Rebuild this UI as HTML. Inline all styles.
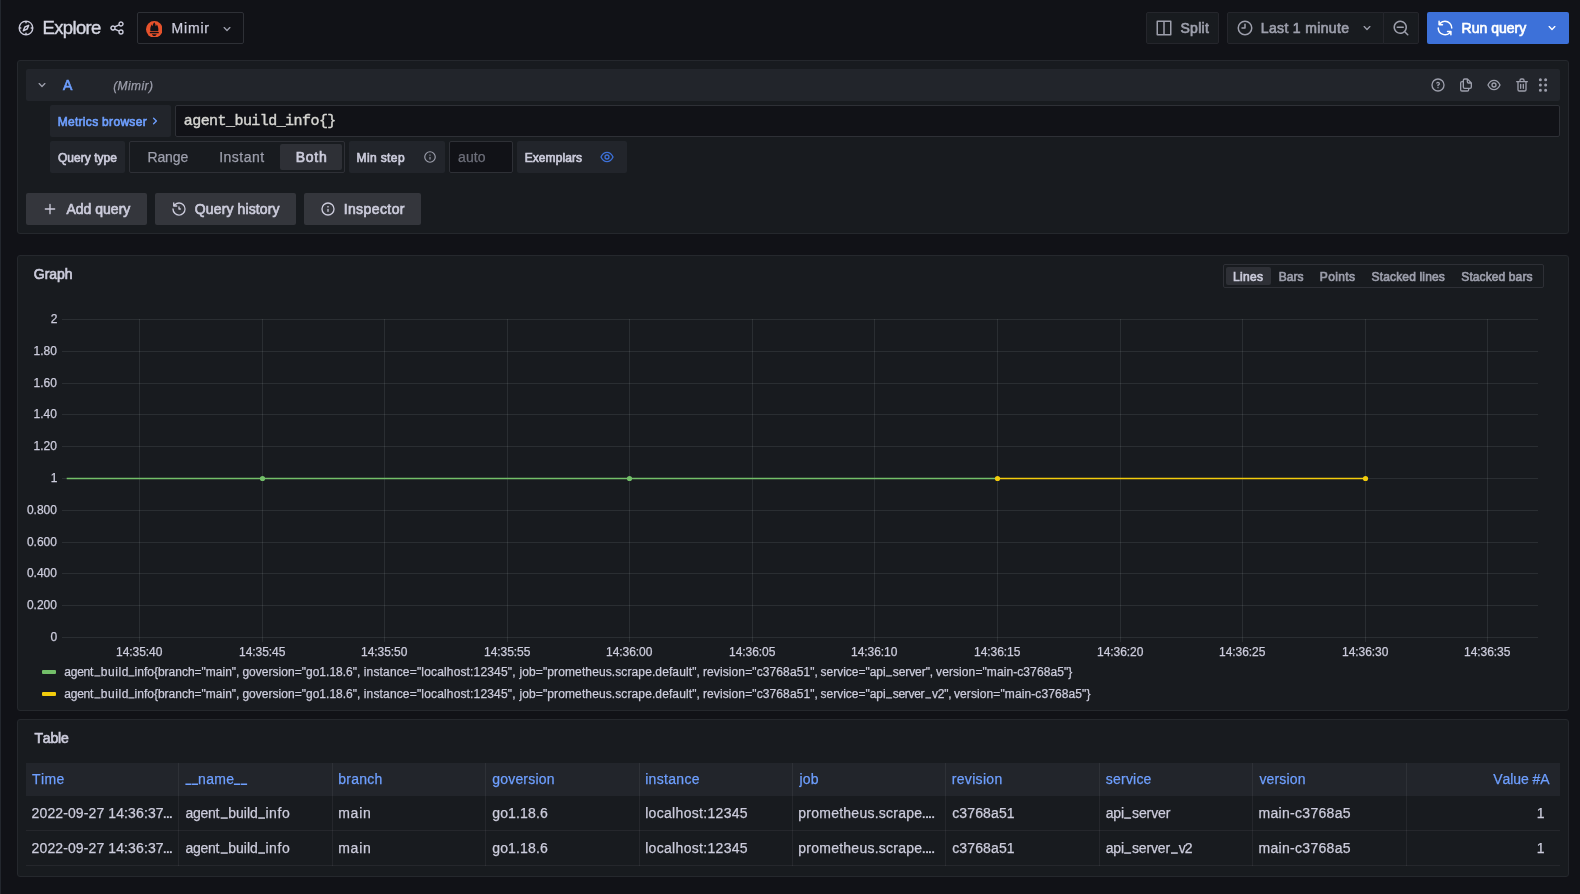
<!DOCTYPE html>
<html>
<head>
<meta charset="utf-8">
<title>Explore - Grafana</title>
<style>
*{box-sizing:border-box;margin:0;padding:0}
html,body{width:1580px;height:894px;overflow:hidden;background:#111217}
body{font-family:"Liberation Sans",sans-serif;font-size:14px;color:#ccccdc;position:relative}
.abs{position:absolute}
.t{position:absolute;white-space:nowrap;line-height:1}
.panel{position:absolute;background:#181b1f;border:1px solid #25282d;border-radius:3px}
.lbl{position:absolute;background:#22252b;border-radius:2px;height:32px}
.btn{position:absolute;height:32px;border-radius:2px}
.sec{background:#34363c}
.tb{background:#181b1f;border:1px solid #25262c}
svg{position:absolute;display:block}
.w5{font-weight:bold}
.c2{color:#9d9fac}
.lnk{color:#6e9fff}
.grid line{stroke:#2f3237;stroke-width:1}
.vline{position:absolute;width:1px;background:rgba(204,204,220,0.075)}
.hline{position:absolute;height:1px;background:rgba(204,204,220,0.075)}

.t{font-kerning:none}
.yl,.xl,.lg{color:#ccccdc}
.th{color:#6e9fff}
.td{color:#ccccdc}
</style>
</head>
<body>
<div id="root" style="position:absolute;left:0;top:0;width:1580px;height:894px;will-change:transform">
<!-- left strip -->
<div class="abs" style="left:0;top:0;width:1px;height:894px;background:#23272e"></div>

<!-- TOOLBAR -->
<div id="toolbar">
<svg id="i-compass" style="left:16.95px;top:19.30px" width="18" height="18" viewBox="0 0 24 24" fill="#ccccdc"><path d="M12,2A10,10,0,1,0,22,12,10,10,0,0,0,12,2Zm1,17.930V19a1,1,0,0,0-2,0v.930A8,8,0,0,1,4.070,13H5a1,1,0,0,0,0-2H4.070A8,8,0,0,1,11,4.070V5a1,1,0,0,0,2,0V4.070A8,8,0,0,1,19.930,11H19a1,1,0,0,0,0,2h.930A8,8,0,0,1,13,19.930ZM15.140,7.550l-5,2.120a1,1,0,0,0-.520.520l-2.120,5a1,1,0,0,0,.210,1.100,1,1,0,0,0,.7.3.930.930,0,0,0,.4-.090l5-2.120a1,1,0,0,0,.520-.520l2.120-5a1,1,0,0,0-1.310-1.310Zm-2.490,5.100-2.280,1,1-2.280,2.280-1Z"/></svg>
<div class="t" id="t-explore" style="left:42.48px;top:17px;font-size:18.5px;line-height:22px;letter-spacing:-0.631px;-webkit-text-stroke:0.4px;color:#d5d6e2">Explore</div>
<svg id="i-share" style="left:109px;top:20px" width="16" height="16" viewBox="0 0 24 24" fill="#ccccdc"><path d="M18,14a4,4,0,0,0-3.08,1.48l-5.1-2.35a3.64,3.64,0,0,0,0-2.26l5.1-2.35A4,4,0,1,0,14,6a4.17,4.17,0,0,0,.07.71L8.79,9.14a4,4,0,1,0,0,5.72l5.28,2.43A4.17,4.17,0,0,0,14,18a4,4,0,1,0,4-4ZM18,4a2,2,0,1,1-2,2A2,2,0,0,1,18,4ZM6,14a2,2,0,1,1,2-2A2,2,0,0,1,6,14Zm12,6a2,2,0,1,1,2-2A2,2,0,0,1,18,20Z"/></svg>
<div class="abs" id="ds" style="left:137px;top:12px;width:107px;height:32px;background:#111217;border:1px solid #2e3036;border-radius:2px"></div>
<svg id="i-prom" style="left:145.7px;top:20.8px" width="16.6" height="16.6" viewBox="0 0 16 16"><circle cx="8" cy="8" r="8" fill="#e6522c"/><path d="M4.25 9.800C3.800 7.500 4.400 5 5.800 3.100C5.700 4 6 4.600 6.500 5C6.600 3.500 7.200 2.200 8 1.150C8.800 2.200 9.300 3.500 9.400 5C9.900 4.600 10.300 4.200 10.500 3.400C11.700 5.200 12.200 7.500 11.800 9.800ZM3.700 10.600H12.300V11.800H3.700ZM5.700 12.700H10.300C10 13.800 9.100 14.400 8 14.400C6.900 14.400 6 13.800 5.700 12.700Z" fill="#111217"/></svg>
<div class="t" id="t-mimir" style="left:171.48px;top:20px;font-size:14px;line-height:16px;letter-spacing:0.831px;-webkit-text-stroke:0.25px">Mimir</div>
<svg id="i-dschev" style="left:219px;top:21px" width="16" height="16" viewBox="0 0 24 24" fill="#9d9fac"><path d="M17,9.17a1,1,0,0,0-1.410,0L12,12.710,8.460,9.170a1,1,0,0,0-1.410,0,1,1,0,0,0,0,1.420l4.240,4.240a1,1,0,0,0,1.420,0L17,10.590A1,1,0,0,0,17,9.170Z"/></svg>

<!-- right -->
<div class="btn tb" id="b-split" style="left:1146px;top:12px;width:73px"></div>
<svg id="i-split" style="left:1155.20px;top:19.20px" width="18" height="18" viewBox="0 0 24 24" fill="#9d9fac"><path d="M21,2H3A1,1,0,0,0,2,3V21a1,1,0,0,0,1,1H21a1,1,0,0,0,1-1V3A1,1,0,0,0,21,2ZM11,20H4V4h7Zm9,0H13V4h7Z"/></svg>
<div class="t c2" id="t-split" style="left:1180.39px;top:20px;font-size:14px;line-height:16px;letter-spacing:0.338px;-webkit-text-stroke:0.65px">Split</div>

<div class="btn tb" id="b-time" style="left:1227px;top:12px;width:157px;border-radius:2px 0 0 2px"></div>
<div class="btn tb" id="b-zoom" style="left:1383px;top:12px;width:36px;border-radius:0 2px 2px 0"></div>
<svg id="i-clock" style="left:1236.00px;top:19.30px" width="18" height="18" viewBox="0 0 24 24" fill="#9d9fac"><path d="M12,2A10,10,0,1,0,22,12,10.011,10.011,0,0,0,12,2Zm0,18a8,8,0,1,1,8-8A8.009,8.009,0,0,1,12,20ZM12,6a1,1,0,0,0-1,1v4H8a1,1,0,0,0,0,2h4a1,1,0,0,0,1-1V7A1,1,0,0,0,12,6Z"/></svg>
<div class="t c2" id="t-last" style="left:1260.78px;top:20px;font-size:14px;line-height:16px;letter-spacing:0.348px;-webkit-text-stroke:0.65px">Last 1 minute</div>
<svg id="i-tchev" style="left:1359px;top:20px" width="16" height="16" viewBox="0 0 24 24" fill="#9d9fac"><path d="M17,9.17a1,1,0,0,0-1.410,0L12,12.710,8.460,9.170a1,1,0,0,0-1.410,0,1,1,0,0,0,0,1.420l4.240,4.240a1,1,0,0,0,1.420,0L17,10.590A1,1,0,0,0,17,9.170Z"/></svg>
<svg id="i-zoom" style="left:1392.20px;top:19.30px" width="18" height="18" viewBox="0 0 24 24" fill="#9d9fac"><path d="M21.710,20.290,18,16.610A9,9,0,1,0,16.610,18l3.680,3.680a1,1,0,0,0,1.420,0A1,1,0,0,0,21.710,20.290ZM11,18a7,7,0,1,1,7-7A7,7,0,0,1,11,18Zm4-8H7a1,1,0,0,0,0,2h8a1,1,0,0,0,0-2Z"/></svg>

<div class="btn" id="b-run" style="left:1427px;top:12px;width:142px;background:#3d71d9"></div>
<svg id="i-sync" style="left:1435.90px;top:19.20px" width="18" height="18" viewBox="0 0 24 24" fill="#fff"><path d="M19.910,15.510H15.380a1,1,0,0,0,0,2h2.400A8,8,0,0,1,4,12a1,1,0,0,0-2,0,10,10,0,0,0,16.880,7.230V21a1,1,0,0,0,2,0V16.500A1,1,0,0,0,19.910,15.510ZM12,2A10,10,0,0,0,5.120,4.770V3a1,1,0,0,0-2,0V7.500a1,1,0,0,0,1,1h4.500a1,1,0,0,0,0-2H6.220A8,8,0,0,1,20,12a1,1,0,0,0,2,0A10,10,0,0,0,12,2Z"/></svg>
<div class="t" id="t-run" style="left:1461.58px;top:20px;font-size:14px;line-height:16px;letter-spacing:0.004px;-webkit-text-stroke:0.65px;color:#fff">Run query</div>
<svg id="i-rchev" style="left:1544px;top:20px" width="16" height="16" viewBox="0 0 24 24" fill="#fff"><path d="M17,9.17a1,1,0,0,0-1.410,0L12,12.710,8.460,9.170a1,1,0,0,0-1.410,0,1,1,0,0,0,0,1.420l4.240,4.240a1,1,0,0,0,1.420,0L17,10.590A1,1,0,0,0,17,9.170Z"/></svg>
</div>

<!-- QUERY PANEL -->
<div class="panel" id="p-query" style="left:17px;top:60px;width:1552px;height:174px"></div>
<div class="abs" id="qhead" style="left:26px;top:69px;width:1534px;height:32px;background:#22252b;border-radius:2px"></div>
<svg id="i-qchev" style="left:34px;top:77px" width="16" height="16" viewBox="0 0 24 24" fill="#9d9fac"><path d="M17,9.17a1,1,0,0,0-1.410,0L12,12.710,8.460,9.170a1,1,0,0,0-1.410,0,1,1,0,0,0,0,1.420l4.240,4.240a1,1,0,0,0,1.420,0L17,10.590A1,1,0,0,0,17,9.170Z"/></svg>
<div class="t lnk" id="t-A" style="left:63.10px;top:77px;font-size:14px;line-height:16px;letter-spacing:0.000px;-webkit-text-stroke:0.65px">A</div>
<div class="t c2" id="t-qmimir" style="left:113.16px;top:79px;font-size:12px;line-height:14px;letter-spacing:0.419px;-webkit-text-stroke:0.25px;font-style:italic">(Mimir)</div>

<svg id="i-help" style="left:1430px;top:77px" width="16" height="16" viewBox="0 0 24 24" fill="#9d9fac"><path d="M11.290,15.290a1.580,1.580,0,0,0-.120.150.760.760,0,0,0-.090.180.640.640,0,0,0-.060.180,1.360,1.360,0,0,0,0,.2.840.840,0,0,0,.080.380.900.900,0,0,0,.540.540.940.940,0,0,0,.760,0,.900.900,0,0,0,.540-.54A1,1,0,0,0,13,16a1,1,0,0,0-.290-.71A1,1,0,0,0,11.290,15.290ZM12,2A10,10,0,1,0,22,12,10,10,0,0,0,12,2Zm0,18a8,8,0,1,1,8-8A8,8,0,0,1,12,20ZM12,7A3,3,0,0,0,9.400,8.500a1,1,0,1,0,1.730,1A1,1,0,0,1,12,9a1,1,0,0,1,0,2,1,1,0,0,0-1,1v1a1,1,0,0,0,2,0v-.18A3,3,0,0,0,12,7Z"/></svg>
<svg id="i-copy" style="left:1458px;top:77px" width="16" height="16" viewBox="0 0 24 24" fill="#9d9fac"><path d="M21,8.940a1.310,1.310,0,0,0-.060-.270l0-.090a1.070,1.070,0,0,0-.190-.280h0l-6-6h0a1.070,1.070,0,0,0-.280-.190.320.320,0,0,0-.090,0A.880.880,0,0,0,14.050,2H10A3,3,0,0,0,7,5V6H6A3,3,0,0,0,3,9V19a3,3,0,0,0,3,3h8a3,3,0,0,0,3-3V18h1a3,3,0,0,0,3-3V9S21,9,21,8.940ZM15,5.410,17.590,8H16a1,1,0,0,1-1-1ZM15,19a1,1,0,0,1-1,1H6a1,1,0,0,1-1-1V9A1,1,0,0,1,6,8H7v7a3,3,0,0,0,3,3h5Zm4-4a1,1,0,0,1-1,1H10a1,1,0,0,1-1-1V5a1,1,0,0,1,1-1h3V7a3,3,0,0,0,3,3h3Z"/></svg>
<svg id="i-eye" style="left:1486px;top:77px" width="16" height="16" viewBox="0 0 24 24" fill="#9d9fac"><path d="M21.920,11.600C19.900,6.910,16.100,4,12,4S4.100,6.910,2.080,11.600a1,1,0,0,0,0,.8C4.100,17.090,7.900,20,12,20s7.900-2.910,9.920-7.600A1,1,0,0,0,21.920,11.600ZM12,18c-3.170,0-6.170-2.290-7.900-6C5.830,8.290,8.830,6,12,6s6.170,2.290,7.900,6C18.170,15.710,15.170,18,12,18ZM12,8a4,4,0,1,0,4,4A4,4,0,0,0,12,8Zm0,6a2,2,0,1,1,2-2A2,2,0,0,1,12,14Z"/></svg>
<svg id="i-trash" style="left:1514px;top:77px" width="16" height="16" viewBox="0 0 24 24" fill="#9d9fac"><path d="M10,18a1,1,0,0,0,1-1V11a1,1,0,0,0-2,0v6A1,1,0,0,0,10,18ZM20,6H16V5a3,3,0,0,0-3-3H11A3,3,0,0,0,8,5V6H4A1,1,0,0,0,4,8H5V19a3,3,0,0,0,3,3h8a3,3,0,0,0,3-3V8h1a1,1,0,0,0,0-2ZM10,5a1,1,0,0,1,1-1h2a1,1,0,0,1,1,1V6H10Zm7,14a1,1,0,0,1-1,1H8a1,1,0,0,1-1-1V8H17Zm-3-1a1,1,0,0,0,1-1V11a1,1,0,0,0-2,0v6A1,1,0,0,0,14,18Z"/></svg>
<svg id="i-drag" style="left:1534.00px;top:76.10px" width="18" height="18" viewBox="0 0 24 24" fill="#9d9fac"><path d="M8.500,10a2,2,0,1,0,2,2A2,2,0,0,0,8.500,10Zm0,7a2,2,0,1,0,2,2A2,2,0,0,0,8.500,17Zm7-10a2,2,0,1,0-2-2A2,2,0,0,0,15.500,7Zm-7-4a2,2,0,1,0,2,2A2,2,0,0,0,8.500,3Zm7,14a2,2,0,1,0,2,2A2,2,0,0,0,15.500,17Zm0-7a2,2,0,1,0,2,2A2,2,0,0,0,15.500,10Z"/></svg>

<!-- query row 1 -->
<div class="lbl" id="l-metrics" style="left:50px;top:105px;width:121px"></div>
<div class="t lnk" id="t-metrics" style="left:57.64px;top:115px;font-size:12px;line-height:14px;letter-spacing:0.311px;-webkit-text-stroke:0.65px">Metrics browser</div>
<svg id="i-mchev" style="left:147.05px;top:113.25px" width="16" height="16" viewBox="0 0 24 24" fill="#6e9fff"><path d="M14.830,11.290,10.590,7.050a1,1,0,0,0-1.420,0,1,1,0,0,0,0,1.410L12.710,12,9.170,15.540a1,1,0,0,0,0,1.410,1,1,0,0,0,.71.290,1,1,0,0,0,.71-.29l4.240-4.240A1,1,0,0,0,14.830,11.290Z"/></svg>
<div class="abs" id="qinput" style="left:175px;top:105px;width:1385px;height:32px;background:#111217;border:1px solid #2e3036;border-radius:2px"></div>
<div class="t" id="t-query" style="left:183.76px;top:113px;font-size:15px;line-height:17px;letter-spacing:-0.554px;-webkit-text-stroke:0.4px;font-family:'Liberation Mono',monospace;color:#d6d6d2">agent_build_info{}</div>

<!-- query row 2 -->
<div class="lbl" id="l-qtype" style="left:50px;top:141px;width:75px"></div>
<div class="t" id="t-qtype" style="left:57.96px;top:151px;font-size:12px;line-height:14px;letter-spacing:0.029px;-webkit-text-stroke:0.65px">Query type</div>
<div class="abs" id="radio" style="left:129px;top:141px;width:216px;height:32px;border:1px solid #2e3036;border-radius:2px"></div>
<div class="abs" id="pill" style="left:280px;top:144px;width:62px;height:26px;background:#2e3036;border-radius:2px"></div>
<div class="t c2" id="t-range" style="left:147.38px;top:149px;font-size:14px;line-height:16px;letter-spacing:-0.084px;-webkit-text-stroke:0.25px">Range</div>
<div class="t c2" id="t-instant" style="left:219.13px;top:149px;font-size:14px;line-height:16px;letter-spacing:0.486px;-webkit-text-stroke:0.25px">Instant</div>
<div class="t" id="t-both" style="left:295.68px;top:149px;font-size:14px;line-height:16px;letter-spacing:0.736px;-webkit-text-stroke:0.65px">Both</div>
<div class="lbl" id="l-minstep" style="left:349px;top:141px;width:96px"></div>
<div class="t" id="t-minstep" style="left:356.54px;top:151px;font-size:12px;line-height:14px;letter-spacing:0.384px;-webkit-text-stroke:0.65px">Min step</div>
<svg id="i-msinfo" style="left:423.10px;top:150.30px" width="14" height="14" viewBox="0 0 24 24" fill="#9d9fac"><path d="M12,2A10,10,0,1,0,22,12,10.011,10.011,0,0,0,12,2Zm0,18a8,8,0,1,1,8-8A8.009,8.009,0,0,1,12,20Zm0-8.500a1,1,0,0,0-1,1v3a1,1,0,0,0,2,0v-3A1,1,0,0,0,12,11.500Zm0-4a1.250,1.250,0,1,0,1.250,1.250A1.250,1.250,0,0,0,12,7.500Z"/></svg>
<div class="abs" id="autoinput" style="left:449px;top:141px;width:64px;height:32px;background:#111217;border:1px solid #2e3036;border-radius:2px"></div>
<div class="t" id="t-auto" style="left:458.03px;top:149px;font-size:14px;line-height:16px;letter-spacing:0.128px;-webkit-text-stroke:0.25px;color:#6c6e79">auto</div>
<div class="lbl" id="l-exemplars" style="left:517px;top:141px;width:110px"></div>
<div class="t" id="t-exemplars" style="left:524.64px;top:151px;font-size:12px;line-height:14px;letter-spacing:0.098px;-webkit-text-stroke:0.65px">Exemplars</div>
<svg id="i-exeye" style="left:599.00px;top:149.30px" width="16" height="16" viewBox="0 0 24 24" fill="#3d71d9"><path d="M21.920,11.600C19.900,6.910,16.100,4,12,4S4.100,6.910,2.080,11.600a1,1,0,0,0,0,.8C4.100,17.090,7.900,20,12,20s7.900-2.910,9.920-7.600A1,1,0,0,0,21.920,11.600ZM12,18c-3.170,0-6.170-2.290-7.900-6C5.830,8.290,8.830,6,12,6s6.170,2.290,7.900,6C18.170,15.710,15.170,18,12,18ZM12,8a4,4,0,1,0,4,4A4,4,0,0,0,12,8Zm0,6a2,2,0,1,1,2-2A2,2,0,0,1,12,14Z"/></svg>

<!-- buttons -->
<div class="btn sec" id="b-add" style="left:26px;top:193px;width:121px"></div>
<svg id="i-plus" style="left:42px;top:201px" width="16" height="16" viewBox="0 0 24 24" fill="#ccccdc"><path d="M19,11H13V5a1,1,0,0,0-2,0v6H5a1,1,0,0,0,0,2h6v6a1,1,0,0,0,2,0V13h6a1,1,0,0,0,0-2Z"/></svg>
<div class="t" id="t-add" style="left:66.40px;top:201px;font-size:14px;line-height:16px;letter-spacing:0.011px;-webkit-text-stroke:0.65px">Add query</div>
<div class="btn sec" id="b-hist" style="left:155px;top:193px;width:141px"></div>
<svg id="i-hist" style="left:171px;top:201px" width="16" height="16" viewBox="0 0 24 24" fill="#ccccdc"><path d="M12,2A10,10,0,0,0,5.120,4.770V3a1,1,0,0,0-2,0V7.500a1,1,0,0,0,1,1H8.620a1,1,0,0,0,0-2H6.220A8,8,0,1,1,4,12a1,1,0,0,0-2,0A10,10,0,1,0,12,2Zm0,6a1,1,0,0,0-1,1v3a1,1,0,0,0,1,1h2a1,1,0,0,0,0-2H13V9A1,1,0,0,0,12,8Z"/></svg>
<div class="t" id="t-hist" style="left:194.86px;top:201px;font-size:14px;line-height:16px;letter-spacing:0.108px;-webkit-text-stroke:0.65px">Query history</div>
<div class="btn sec" id="b-insp" style="left:304px;top:193px;width:117px"></div>
<svg id="i-insp" style="left:320px;top:201px" width="16" height="16" viewBox="0 0 24 24" fill="#ccccdc"><path d="M12,2A10,10,0,1,0,22,12,10.011,10.011,0,0,0,12,2Zm0,18a8,8,0,1,1,8-8A8.009,8.009,0,0,1,12,20Zm0-8.500a1,1,0,0,0-1,1v3a1,1,0,0,0,2,0v-3A1,1,0,0,0,12,11.500Zm0-4a1.250,1.250,0,1,0,1.250,1.250A1.250,1.250,0,0,0,12,7.500Z"/></svg>
<div class="t" id="t-insp" style="left:343.63px;top:201px;font-size:14px;line-height:16px;letter-spacing:0.411px;-webkit-text-stroke:0.65px">Inspector</div>

<!-- GRAPH PANEL -->
<div class="panel" id="p-graph" style="left:17px;top:255px;width:1552px;height:456px"></div>
<div class="t" id="t-graph" style="left:33.82px;top:266px;font-size:14px;line-height:16px;letter-spacing:-0.062px;-webkit-text-stroke:0.65px">Graph</div>
<svg id="plot" style="left:0;top:300px" width="1580" height="360" viewBox="0 300 1580 360">
<g stroke="rgba(240,250,255,0.085)" stroke-width="1" shape-rendering="crispEdges">
<line x1="62" y1="319.5" x2="1537.5" y2="319.5"/>
<line x1="62" y1="351.5" x2="1537.5" y2="351.5"/>
<line x1="62" y1="383.5" x2="1537.5" y2="383.5"/>
<line x1="62" y1="414.5" x2="1537.5" y2="414.5"/>
<line x1="62" y1="446.5" x2="1537.5" y2="446.5"/>
<line x1="62" y1="478.5" x2="1537.5" y2="478.5"/>
<line x1="62" y1="510.5" x2="1537.5" y2="510.5"/>
<line x1="62" y1="542.5" x2="1537.5" y2="542.5"/>
<line x1="62" y1="573.5" x2="1537.5" y2="573.5"/>
<line x1="62" y1="605.5" x2="1537.5" y2="605.5"/>
<line x1="62" y1="637.5" x2="1537.5" y2="637.5"/>
<line x1="139.5" y1="319" x2="139.5" y2="642"/>
<line x1="262.5" y1="319" x2="262.5" y2="642"/>
<line x1="384.5" y1="319" x2="384.5" y2="642"/>
<line x1="507.5" y1="319" x2="507.5" y2="642"/>
<line x1="629.5" y1="319" x2="629.5" y2="642"/>
<line x1="752.5" y1="319" x2="752.5" y2="642"/>
<line x1="874.5" y1="319" x2="874.5" y2="642"/>
<line x1="997.5" y1="319" x2="997.5" y2="642"/>
<line x1="1120.5" y1="319" x2="1120.5" y2="642"/>
<line x1="1242.5" y1="319" x2="1242.5" y2="642"/>
<line x1="1365.5" y1="319" x2="1365.5" y2="642"/>
<line x1="1487.5" y1="319" x2="1487.5" y2="642"/>
</g>
<line x1="66.7" y1="478.5" x2="997.5" y2="478.5" stroke="#73bf69" stroke-width="1.3"/>
<line x1="997.5" y1="478.5" x2="1365.5" y2="478.5" stroke="#f2cc0c" stroke-width="1.3"/>
<circle cx="262.5" cy="478.5" r="2.6" fill="#73bf69"/>
<circle cx="629.5" cy="478.5" r="2.6" fill="#73bf69"/>
<circle cx="997.5" cy="478.5" r="2.6" fill="#f2cc0c"/>
<circle cx="1365.5" cy="478.5" r="2.6" fill="#f2cc0c"/>
</svg>
<div class="t yl" style="left:50.65px;top:312px;font-size:12px;line-height:14px;letter-spacing:0.000px;-webkit-text-stroke:0.25px">2</div>
<div class="t yl" style="left:33.61px;top:344px;font-size:12px;line-height:14px;letter-spacing:-0.008px;-webkit-text-stroke:0.25px">1.80</div>
<div class="t yl" style="left:33.61px;top:376px;font-size:12px;line-height:14px;letter-spacing:-0.008px;-webkit-text-stroke:0.25px">1.60</div>
<div class="t yl" style="left:33.61px;top:407px;font-size:12px;line-height:14px;letter-spacing:-0.008px;-webkit-text-stroke:0.25px">1.40</div>
<div class="t yl" style="left:33.61px;top:439px;font-size:12px;line-height:14px;letter-spacing:-0.008px;-webkit-text-stroke:0.25px">1.20</div>
<div class="t yl" style="left:50.64px;top:471px;font-size:12px;line-height:14px;letter-spacing:0.000px;-webkit-text-stroke:0.25px">1</div>
<div class="t yl" style="left:26.96px;top:503px;font-size:12px;line-height:14px;letter-spacing:-0.010px;-webkit-text-stroke:0.25px">0.800</div>
<div class="t yl" style="left:26.96px;top:535px;font-size:12px;line-height:14px;letter-spacing:-0.010px;-webkit-text-stroke:0.25px">0.600</div>
<div class="t yl" style="left:26.96px;top:566px;font-size:12px;line-height:14px;letter-spacing:-0.010px;-webkit-text-stroke:0.25px">0.400</div>
<div class="t yl" style="left:26.96px;top:598px;font-size:12px;line-height:14px;letter-spacing:-0.010px;-webkit-text-stroke:0.25px">0.200</div>
<div class="t yl" style="left:50.52px;top:630px;font-size:12px;line-height:14px;letter-spacing:0.000px;-webkit-text-stroke:0.25px">0</div>
<div class="t xl" style="left:116.11px;top:645px;font-size:12px;line-height:14px;letter-spacing:-0.068px;-webkit-text-stroke:0.25px">14:35:40</div>
<div class="t xl" style="left:239.11px;top:645px;font-size:12px;line-height:14px;letter-spacing:-0.063px;-webkit-text-stroke:0.25px">14:35:45</div>
<div class="t xl" style="left:361.11px;top:645px;font-size:12px;line-height:14px;letter-spacing:-0.068px;-webkit-text-stroke:0.25px">14:35:50</div>
<div class="t xl" style="left:484.11px;top:645px;font-size:12px;line-height:14px;letter-spacing:-0.063px;-webkit-text-stroke:0.25px">14:35:55</div>
<div class="t xl" style="left:606.11px;top:645px;font-size:12px;line-height:14px;letter-spacing:-0.068px;-webkit-text-stroke:0.25px">14:36:00</div>
<div class="t xl" style="left:729.11px;top:645px;font-size:12px;line-height:14px;letter-spacing:-0.063px;-webkit-text-stroke:0.25px">14:36:05</div>
<div class="t xl" style="left:851.11px;top:645px;font-size:12px;line-height:14px;letter-spacing:-0.068px;-webkit-text-stroke:0.25px">14:36:10</div>
<div class="t xl" style="left:974.11px;top:645px;font-size:12px;line-height:14px;letter-spacing:-0.063px;-webkit-text-stroke:0.25px">14:36:15</div>
<div class="t xl" style="left:1097.11px;top:645px;font-size:12px;line-height:14px;letter-spacing:-0.068px;-webkit-text-stroke:0.25px">14:36:20</div>
<div class="t xl" style="left:1219.11px;top:645px;font-size:12px;line-height:14px;letter-spacing:-0.063px;-webkit-text-stroke:0.25px">14:36:25</div>
<div class="t xl" style="left:1342.11px;top:645px;font-size:12px;line-height:14px;letter-spacing:-0.068px;-webkit-text-stroke:0.25px">14:36:30</div>
<div class="t xl" style="left:1464.11px;top:645px;font-size:12px;line-height:14px;letter-spacing:-0.063px;-webkit-text-stroke:0.25px">14:36:35</div>
<div class="abs" style="left:42px;top:669.5px;width:14px;height:4px;border-radius:1px;background:#73bf69"></div>
<div class="abs" style="left:42px;top:691.5px;width:14px;height:4px;border-radius:1px;background:#f2cc0c"></div>
<div class="t lg" id="t-lega0" style="left:64.22px;top:665px;font-size:12px;line-height:14px;letter-spacing:-0.220px;-webkit-text-stroke:0.25px">agent</div>
<div class="t lg" id="t-lega2" style="left:100.75px;top:665px;font-size:12px;line-height:14px;letter-spacing:0.561px;-webkit-text-stroke:0.25px">build</div>
<div class="t lg" id="t-lega4" style="left:134.62px;top:665px;font-size:12px;line-height:14px;letter-spacing:-0.005px;-webkit-text-stroke:0.25px">info{branch="main",</div>
<div class="t lg" id="t-lega5" style="left:242.42px;top:665px;font-size:12px;line-height:14px;letter-spacing:0.021px;-webkit-text-stroke:0.25px">goversion="go1.18.6",</div>
<div class="t lg" id="t-lega6" style="left:363.72px;top:665px;font-size:12px;line-height:14px;letter-spacing:0.162px;-webkit-text-stroke:0.25px">instance="localhost:12345",</div>
<div class="t lg" id="t-lega7" style="left:519.52px;top:665px;font-size:12px;line-height:14px;letter-spacing:0.109px;-webkit-text-stroke:0.25px">job="prometheus.scrape.default",</div>
<div class="t lg" id="t-lega8" style="left:702.93px;top:665px;font-size:12px;line-height:14px;letter-spacing:0.110px;-webkit-text-stroke:0.25px">revision="c3768a51",</div>
<div class="t lg" id="t-lega9" style="left:820.59px;top:665px;font-size:12px;line-height:14px;letter-spacing:-0.018px;-webkit-text-stroke:0.25px">service="api</div>
<div class="t lg" id="t-lega11" style="left:892.79px;top:665px;font-size:12px;line-height:14px;letter-spacing:-0.082px;-webkit-text-stroke:0.25px">server",</div>
<div class="t lg" id="t-lega12" style="left:936.08px;top:665px;font-size:12px;line-height:14px;letter-spacing:0.088px;-webkit-text-stroke:0.25px">version="main-c3768a5"}</div>
<div class="t lg" id="t-legb0" style="left:64.22px;top:687px;font-size:12px;line-height:14px;letter-spacing:-0.220px;-webkit-text-stroke:0.25px">agent</div>
<div class="t lg" id="t-legb2" style="left:100.75px;top:687px;font-size:12px;line-height:14px;letter-spacing:0.561px;-webkit-text-stroke:0.25px">build</div>
<div class="t lg" id="t-legb4" style="left:134.62px;top:687px;font-size:12px;line-height:14px;letter-spacing:-0.005px;-webkit-text-stroke:0.25px">info{branch="main",</div>
<div class="t lg" id="t-legb5" style="left:242.42px;top:687px;font-size:12px;line-height:14px;letter-spacing:0.021px;-webkit-text-stroke:0.25px">goversion="go1.18.6",</div>
<div class="t lg" id="t-legb6" style="left:363.72px;top:687px;font-size:12px;line-height:14px;letter-spacing:0.162px;-webkit-text-stroke:0.25px">instance="localhost:12345",</div>
<div class="t lg" id="t-legb7" style="left:519.52px;top:687px;font-size:12px;line-height:14px;letter-spacing:0.109px;-webkit-text-stroke:0.25px">job="prometheus.scrape.default",</div>
<div class="t lg" id="t-legb8" style="left:702.93px;top:687px;font-size:12px;line-height:14px;letter-spacing:0.110px;-webkit-text-stroke:0.25px">revision="c3768a51",</div>
<div class="t lg" id="t-legb9" style="left:820.59px;top:687px;font-size:12px;line-height:14px;letter-spacing:-0.018px;-webkit-text-stroke:0.25px">service="api</div>
<div class="t lg" id="t-legb11" style="left:892.79px;top:687px;font-size:12px;line-height:14px;letter-spacing:-0.331px;-webkit-text-stroke:0.25px">server</div>
<div class="t lg" id="t-legb13" style="left:932.08px;top:687px;font-size:12px;line-height:14px;letter-spacing:-0.266px;-webkit-text-stroke:0.25px">v2",</div>
<div class="t lg" id="t-legb14" style="left:953.98px;top:687px;font-size:12px;line-height:14px;letter-spacing:0.102px;-webkit-text-stroke:0.25px">version="main-c3768a5"}</div>
<div class="abs" id="gstyle" style="left:1223px;top:264px;width:321px;height:24px;border:1px solid #2e3036;border-radius:2px"></div>
<div class="abs" id="gpill" style="left:1226px;top:267px;width:45px;height:18px;background:#2e3036;border-radius:2px"></div>
<div class="t" id="t-gs0" style="left:1233.04px;top:270px;font-size:12px;line-height:14px;letter-spacing:0.295px;-webkit-text-stroke:0.65px">Lines</div>
<div class="t c2" id="t-gs1" style="left:1278.84px;top:270px;font-size:12px;line-height:14px;letter-spacing:-0.002px;-webkit-text-stroke:0.65px">Bars</div>
<div class="t c2" id="t-gs2" style="left:1319.84px;top:270px;font-size:12px;line-height:14px;letter-spacing:0.363px;-webkit-text-stroke:0.65px">Points</div>
<div class="t c2" id="t-gs3" style="left:1371.58px;top:270px;font-size:12px;line-height:14px;letter-spacing:0.155px;-webkit-text-stroke:0.65px">Stacked lines</div>
<div class="t c2" id="t-gs4" style="left:1461.28px;top:270px;font-size:12px;line-height:14px;letter-spacing:0.108px;-webkit-text-stroke:0.65px">Stacked bars</div>

<!-- TABLE PANEL -->
<div class="panel" id="p-table" style="left:17px;top:719px;width:1552px;height:158px"></div>
<div class="t" id="t-table" style="left:34.41px;top:730px;font-size:14px;line-height:16px;letter-spacing:-0.183px;-webkit-text-stroke:0.65px">Table</div>
<div class="abs" id="thead" style="left:26px;top:763px;width:1534px;height:33px;background:#22252b"></div>
<div class="hline" style="left:26px;top:830px;width:1534px"></div>
<div class="hline" style="left:26px;top:865px;width:1534px"></div>
<div class="vline" style="left:178px;top:763px;height:103px"></div>
<div class="vline" style="left:332px;top:763px;height:103px"></div>
<div class="vline" style="left:485px;top:763px;height:103px"></div>
<div class="vline" style="left:639px;top:763px;height:103px"></div>
<div class="vline" style="left:792px;top:763px;height:103px"></div>
<div class="vline" style="left:945px;top:763px;height:103px"></div>
<div class="vline" style="left:1099px;top:763px;height:103px"></div>
<div class="vline" style="left:1252px;top:763px;height:103px"></div>
<div class="vline" style="left:1406px;top:763px;height:103px"></div>
<div class="t th" id="th0" style="left:32.01px;top:771px;font-size:14px;line-height:16px;letter-spacing:0.392px;-webkit-text-stroke:0.25px">Time</div>
<div class="t th" id="th1" style="left:198.00px;top:771px;font-size:14px;line-height:16px;letter-spacing:0.360px;-webkit-text-stroke:0.25px">name</div>
<div class="t th" id="th2" style="left:338.22px;top:771px;font-size:14px;line-height:16px;letter-spacing:0.271px;-webkit-text-stroke:0.25px">branch</div>
<div class="t th" id="th3" style="left:492.24px;top:771px;font-size:14px;line-height:16px;letter-spacing:0.193px;-webkit-text-stroke:0.25px">goversion</div>
<div class="t th" id="th4" style="left:645.19px;top:771px;font-size:14px;line-height:16px;letter-spacing:0.323px;-webkit-text-stroke:0.25px">instance</div>
<div class="t th" id="th5" style="left:799.57px;top:771px;font-size:14px;line-height:16px;letter-spacing:0.157px;-webkit-text-stroke:0.25px">job</div>
<div class="t th" id="th6" style="left:951.80px;top:771px;font-size:14px;line-height:16px;letter-spacing:0.307px;-webkit-text-stroke:0.25px">revision</div>
<div class="t th" id="th7" style="left:1105.84px;top:771px;font-size:14px;line-height:16px;letter-spacing:0.203px;-webkit-text-stroke:0.25px">service</div>
<div class="t th" id="th8" style="left:1259.38px;top:771px;font-size:14px;line-height:16px;letter-spacing:0.163px;-webkit-text-stroke:0.25px">version</div>
<div class="t th" id="th9" style="left:1493.26px;top:771px;font-size:14px;line-height:16px;letter-spacing:-0.083px;-webkit-text-stroke:0.25px">Value #A</div>
<div class="t td" id="td0_0" style="left:31.62px;top:805px;font-size:14px;line-height:16px;letter-spacing:0.109px;-webkit-text-stroke:0.25px">2022-09-27 14:36:37</div>
<div class="t td" id="td0_1" style="left:185.43px;top:805px;font-size:14px;line-height:16px;letter-spacing:-0.247px;-webkit-text-stroke:0.25px">agent</div>
<div class="t td" id="td0_3" style="left:228.22px;top:805px;font-size:14px;line-height:16px;letter-spacing:0.019px;-webkit-text-stroke:0.25px">build</div>
<div class="t td" id="td0_5" style="left:265.39px;top:805px;font-size:14px;line-height:16px;letter-spacing:0.601px;-webkit-text-stroke:0.25px">info</div>
<div class="t td" id="td0_6" style="left:338.20px;top:805px;font-size:14px;line-height:16px;letter-spacing:0.748px;-webkit-text-stroke:0.25px">main</div>
<div class="t td" id="td0_7" style="left:492.24px;top:805px;font-size:14px;line-height:16px;letter-spacing:0.151px;-webkit-text-stroke:0.25px">go1.18.6</div>
<div class="t td" id="td0_8" style="left:645.18px;top:805px;font-size:14px;line-height:16px;letter-spacing:0.315px;-webkit-text-stroke:0.25px">localhost:12345</div>
<div class="t td" id="td0_9" style="left:798.32px;top:805px;font-size:14px;line-height:16px;letter-spacing:0.240px;-webkit-text-stroke:0.25px">prometheus.scrape</div>
<div class="t td" id="td0_10" style="left:952.13px;top:805px;font-size:14px;line-height:16px;letter-spacing:0.146px;-webkit-text-stroke:0.25px">c3768a51</div>
<div class="t td" id="td0_11" style="left:1105.63px;top:805px;font-size:14px;line-height:16px;letter-spacing:-0.147px;-webkit-text-stroke:0.25px">api</div>
<div class="t td" id="td0_13" style="left:1132.04px;top:805px;font-size:14px;line-height:16px;letter-spacing:-0.105px;-webkit-text-stroke:0.25px">server</div>
<div class="t td" id="td0_14" style="left:1258.50px;top:805px;font-size:14px;line-height:16px;letter-spacing:0.304px;-webkit-text-stroke:0.25px">main-c3768a5</div>
<div class="t td" id="td0_15" style="left:1536.76px;top:805px;font-size:14px;line-height:16px;letter-spacing:0.000px;-webkit-text-stroke:0.25px">1</div>
<div class="t td" id="td1_0" style="left:31.62px;top:840px;font-size:14px;line-height:16px;letter-spacing:0.109px;-webkit-text-stroke:0.25px">2022-09-27 14:36:37</div>
<div class="t td" id="td1_1" style="left:185.43px;top:840px;font-size:14px;line-height:16px;letter-spacing:-0.247px;-webkit-text-stroke:0.25px">agent</div>
<div class="t td" id="td1_3" style="left:228.22px;top:840px;font-size:14px;line-height:16px;letter-spacing:0.019px;-webkit-text-stroke:0.25px">build</div>
<div class="t td" id="td1_5" style="left:265.39px;top:840px;font-size:14px;line-height:16px;letter-spacing:0.601px;-webkit-text-stroke:0.25px">info</div>
<div class="t td" id="td1_6" style="left:338.20px;top:840px;font-size:14px;line-height:16px;letter-spacing:0.748px;-webkit-text-stroke:0.25px">main</div>
<div class="t td" id="td1_7" style="left:492.24px;top:840px;font-size:14px;line-height:16px;letter-spacing:0.151px;-webkit-text-stroke:0.25px">go1.18.6</div>
<div class="t td" id="td1_8" style="left:645.18px;top:840px;font-size:14px;line-height:16px;letter-spacing:0.315px;-webkit-text-stroke:0.25px">localhost:12345</div>
<div class="t td" id="td1_9" style="left:798.32px;top:840px;font-size:14px;line-height:16px;letter-spacing:0.240px;-webkit-text-stroke:0.25px">prometheus.scrape</div>
<div class="t td" id="td1_10" style="left:952.13px;top:840px;font-size:14px;line-height:16px;letter-spacing:0.146px;-webkit-text-stroke:0.25px">c3768a51</div>
<div class="t td" id="td1_11" style="left:1105.63px;top:840px;font-size:14px;line-height:16px;letter-spacing:-0.147px;-webkit-text-stroke:0.25px">api</div>
<div class="t td" id="td1_13" style="left:1132.04px;top:840px;font-size:14px;line-height:16px;letter-spacing:-0.165px;-webkit-text-stroke:0.25px">server</div>
<div class="t td" id="td1_15" style="left:1178.68px;top:840px;font-size:14px;line-height:16px;letter-spacing:-0.984px;-webkit-text-stroke:0.25px">v2</div>
<div class="t td" id="td1_16" style="left:1258.50px;top:840px;font-size:14px;line-height:16px;letter-spacing:0.304px;-webkit-text-stroke:0.25px">main-c3768a5</div>
<div class="t td" id="td1_17" style="left:1536.76px;top:840px;font-size:14px;line-height:16px;letter-spacing:0.000px;-webkit-text-stroke:0.25px">1</div>
<svg id="overlay" style="left:0;top:0" width="1580" height="894" viewBox="0 0 1580 894"><rect x="94.30" y="675.30" width="6.10" height="1.20" fill="#ccccdc"/><rect x="128.40" y="675.30" width="6.10" height="1.20" fill="#ccccdc"/><rect x="885.90" y="675.30" width="6.20" height="1.20" fill="#ccccdc"/><rect x="94.30" y="697.30" width="6.10" height="1.20" fill="#ccccdc"/><rect x="128.40" y="697.30" width="6.10" height="1.20" fill="#ccccdc"/><rect x="885.90" y="697.30" width="6.20" height="1.20" fill="#ccccdc"/><rect x="925.30" y="697.30" width="5.80" height="1.20" fill="#ccccdc"/><rect x="185.40" y="783.50" width="6.10" height="1.50" fill="#6e9fff"/><rect x="191.90" y="783.50" width="6.10" height="1.50" fill="#6e9fff"/><rect x="233.90" y="783.50" width="6.40" height="1.50" fill="#6e9fff"/><rect x="240.90" y="783.50" width="6.20" height="1.50" fill="#6e9fff"/><rect x="220.60" y="817.30" width="7.20" height="1.50" fill="#ccccdc"/><rect x="258.20" y="817.30" width="6.80" height="1.50" fill="#ccccdc"/><rect x="1124.10" y="817.30" width="7.00" height="1.50" fill="#ccccdc"/><rect x="163.80" y="816.20" width="1.90" height="1.90" fill="#ccccdc"/><rect x="166.90" y="816.20" width="1.90" height="1.90" fill="#ccccdc"/><rect x="169.90" y="816.20" width="1.90" height="1.90" fill="#ccccdc"/><rect x="922.80" y="816.20" width="1.90" height="1.90" fill="#ccccdc"/><rect x="926.10" y="816.20" width="1.90" height="1.90" fill="#ccccdc"/><rect x="929.00" y="816.20" width="1.90" height="1.90" fill="#ccccdc"/><rect x="932.20" y="816.20" width="1.90" height="1.90" fill="#ccccdc"/><rect x="220.60" y="852.30" width="7.20" height="1.50" fill="#ccccdc"/><rect x="258.20" y="852.30" width="6.80" height="1.50" fill="#ccccdc"/><rect x="1124.10" y="852.30" width="7.00" height="1.50" fill="#ccccdc"/><rect x="1171.00" y="852.30" width="6.80" height="1.50" fill="#ccccdc"/><rect x="163.80" y="851.20" width="1.90" height="1.90" fill="#ccccdc"/><rect x="166.90" y="851.20" width="1.90" height="1.90" fill="#ccccdc"/><rect x="169.90" y="851.20" width="1.90" height="1.90" fill="#ccccdc"/><rect x="922.80" y="851.20" width="1.90" height="1.90" fill="#ccccdc"/><rect x="926.10" y="851.20" width="1.90" height="1.90" fill="#ccccdc"/><rect x="929.00" y="851.20" width="1.90" height="1.90" fill="#ccccdc"/><rect x="932.20" y="851.20" width="1.90" height="1.90" fill="#ccccdc"/></svg>

</div>
</body>
</html>
